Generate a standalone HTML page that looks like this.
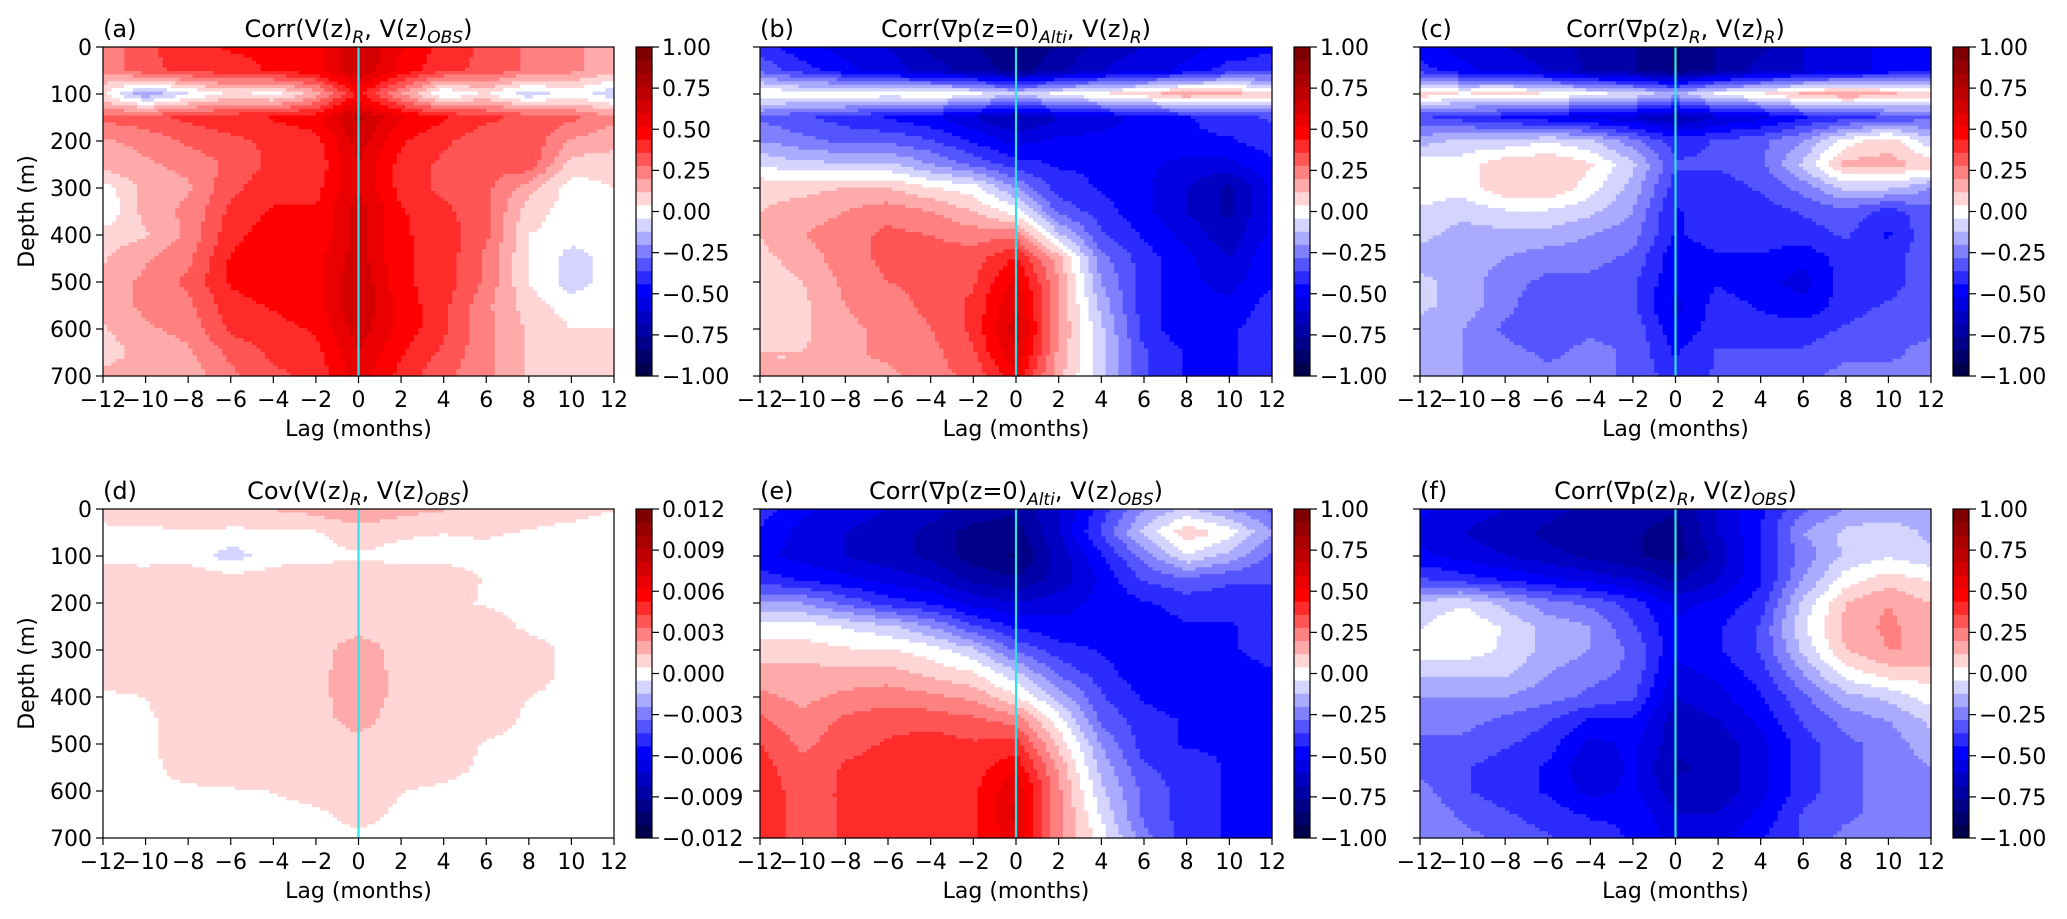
<!DOCTYPE html>
<html><head><meta charset="utf-8">
<style>
html,body{margin:0;padding:0;background:#fff;}
svg{display:block;font-family:"DejaVu Sans","Liberation Sans",sans-serif;}
</style></head>
<body>
<svg id="fig" width="2067" height="919" viewBox="0 0 2067 919" xmlns="http://www.w3.org/2000/svg"></svg>
<script>
// ---- data ----
const lags = [-12,-10,-8,-6,-4,-2,0,2,4,6,8,10,12];
const depths = [0,50,100,150,200,250,300,350,400,450,500,550,600,650,700];
const lagTicks = [-12,-10,-8,-6,-4,-2,0,2,4,6,8,10,12];
const depthTicks = [0,100,200,300,400,500,600,700];
const corrTicks = [1.00,0.75,0.50,0.25,0.00,-0.25,-0.50,-0.75,-1.00];
const covTicks = [0.012,0.009,0.006,0.003,0.000,-0.003,-0.006,-0.009,-0.012];

const valuesA = [
[0.22,0.34,0.41,0.45,0.45,0.49,0.68,0.53,0.41,0.34,0.26,0.22,0.15],
[0.22,0.34,0.38,0.41,0.45,0.49,0.68,0.49,0.38,0.34,0.26,0.22,0.15],
[0.05,-0.2,-0.05,0.05,0.0,0.15,0.45,0.2,-0.05,0.05,-0.1,0.0,-0.1],
[0.3,0.34,0.38,0.41,0.45,0.49,0.7,0.53,0.45,0.38,0.34,0.3,0.22],
[0.19,0.22,0.3,0.34,0.38,0.41,0.64,0.45,0.38,0.3,0.34,0.19,0.15],
[0.15,0.19,0.22,0.3,0.38,0.38,0.6,0.41,0.34,0.3,0.34,0.08,0.08],
[0.0,0.15,0.19,0.34,0.41,0.41,0.6,0.41,0.34,0.3,0.15,0.0,0.04],
[-0.04,0.15,0.22,0.38,0.45,0.45,0.64,0.45,0.38,0.3,0.08,0.0,0.0],
[0.08,0.11,0.22,0.41,0.49,0.45,0.64,0.45,0.41,0.3,0.04,0.0,0.0],
[0.11,0.19,0.26,0.45,0.49,0.49,0.64,0.45,0.41,0.26,0.04,-0.08,0.0],
[0.15,0.22,0.3,0.45,0.49,0.49,0.68,0.45,0.41,0.26,0.04,-0.08,0.0],
[0.15,0.22,0.26,0.41,0.45,0.49,0.68,0.49,0.38,0.22,0.08,0.0,0.0],
[0.11,0.19,0.22,0.38,0.41,0.45,0.64,0.49,0.38,0.22,0.11,0.04,0.04],
[0.08,0.15,0.19,0.3,0.38,0.41,0.6,0.45,0.34,0.22,0.11,0.08,0.04],
[0.15,0.15,0.15,0.26,0.34,0.38,0.56,0.41,0.3,0.22,0.11,0.08,0.08]];
const valuesB = [
[-0.4,-0.5,-0.55,-0.6,-0.7,-0.75,-0.85,-0.75,-0.65,-0.6,-0.55,-0.5,-0.45],
[-0.3,-0.4,-0.5,-0.55,-0.65,-0.7,-0.8,-0.7,-0.6,-0.55,-0.5,-0.4,-0.4],
[0.05,0.0,0.05,0.0,0.05,0.0,-0.1,0.0,0.05,0.1,0.2,0.15,0.1],
[-0.3,-0.35,-0.4,-0.45,-0.5,-0.6,-0.7,-0.6,-0.55,-0.5,-0.45,-0.4,-0.35],
[-0.2,-0.25,-0.3,-0.3,-0.35,-0.45,-0.55,-0.5,-0.5,-0.5,-0.45,-0.45,-0.4],
[-0.05,-0.1,-0.1,-0.1,-0.2,-0.3,-0.4,-0.45,-0.45,-0.5,-0.55,-0.55,-0.45],
[0.1,0.1,0.12,0.12,0.05,0.0,-0.2,-0.4,-0.45,-0.5,-0.6,-0.7,-0.5],
[0.12,0.15,0.2,0.25,0.2,0.12,0.0,-0.3,-0.4,-0.5,-0.6,-0.7,-0.5],
[0.12,0.2,0.25,0.3,0.28,0.25,0.25,-0.1,-0.35,-0.45,-0.55,-0.65,-0.5],
[0.1,0.15,0.25,0.3,0.3,0.32,0.45,0.15,-0.25,-0.4,-0.5,-0.6,-0.45],
[0.08,0.12,0.22,0.28,0.3,0.35,0.55,0.2,-0.2,-0.4,-0.5,-0.55,-0.45],
[0.08,0.1,0.2,0.25,0.3,0.38,0.6,0.2,-0.15,-0.4,-0.5,-0.5,-0.4],
[0.1,0.1,0.18,0.22,0.28,0.38,0.65,0.2,-0.1,-0.4,-0.5,-0.45,-0.4],
[0.12,0.12,0.18,0.22,0.25,0.35,0.6,0.18,-0.1,-0.35,-0.45,-0.45,-0.4],
[0.12,0.12,0.18,0.18,0.25,0.3,0.5,0.15,-0.1,-0.35,-0.45,-0.45,-0.4]];
const valuesC = [
[-0.5,-0.55,-0.6,-0.65,-0.7,-0.75,-0.85,-0.75,-0.7,-0.6,-0.55,-0.5,-0.45],
[-0.4,-0.5,-0.55,-0.6,-0.7,-0.75,-0.85,-0.75,-0.65,-0.6,-0.55,-0.5,-0.45],
[0.1,0.05,0.1,0.05,0.0,-0.05,-0.15,0.0,0.05,0.15,0.2,0.15,0.1],
[-0.35,-0.4,-0.45,-0.5,-0.55,-0.6,-0.7,-0.6,-0.55,-0.45,-0.4,-0.35,-0.3],
[-0.15,-0.1,-0.1,-0.05,-0.1,-0.25,-0.4,-0.35,-0.3,-0.2,0.0,0.1,-0.1],
[0.0,0.0,0.1,0.12,0.05,-0.1,-0.35,-0.35,-0.3,-0.1,0.15,0.15,0.1],
[0.0,0.0,0.1,0.12,0.0,-0.15,-0.4,-0.4,-0.35,-0.25,-0.1,-0.1,-0.2],
[-0.05,-0.1,-0.05,-0.05,-0.1,-0.2,-0.45,-0.4,-0.4,-0.35,-0.3,-0.4,-0.3],
[-0.1,-0.15,-0.15,-0.15,-0.2,-0.25,-0.45,-0.4,-0.4,-0.4,-0.35,-0.45,-0.3],
[-0.15,-0.15,-0.2,-0.25,-0.25,-0.3,-0.5,-0.45,-0.45,-0.5,-0.4,-0.4,-0.3],
[-0.1,-0.15,-0.25,-0.3,-0.3,-0.35,-0.5,-0.45,-0.5,-0.55,-0.4,-0.4,-0.3],
[-0.1,-0.15,-0.25,-0.35,-0.3,-0.35,-0.55,-0.4,-0.45,-0.5,-0.4,-0.35,-0.3],
[-0.15,-0.2,-0.3,-0.35,-0.3,-0.3,-0.5,-0.4,-0.4,-0.4,-0.35,-0.3,-0.3],
[-0.15,-0.2,-0.25,-0.3,-0.25,-0.3,-0.45,-0.35,-0.35,-0.35,-0.3,-0.3,-0.25],
[-0.15,-0.2,-0.2,-0.25,-0.25,-0.3,-0.4,-0.35,-0.3,-0.3,-0.25,-0.25,-0.25]];
const valuesD = [
[0.001,0.0012,0.0015,0.0015,0.0015,0.0018,0.0025,0.0018,0.0015,0.0012,0.001,0.0008,0.0005],
[0.0002,0.0002,0.0004,0.0002,0.0003,0.0004,0.0009,0.0006,0.0005,0.0006,0.0004,0.0002,0.0001],
[0.0002,0.0001,0.0003,-0.001,0.0001,0.0002,0.0004,0.0002,0.0002,0.0002,0.0001,0.0001,0.0001],
[0.001,0.001,0.001,0.001,0.001,0.001,0.0011,0.001,0.001,0.0004,0.0003,0.0002,0.0001],
[0.0006,0.0006,0.0007,0.0009,0.0009,0.0009,0.001,0.0009,0.0007,0.0004,0.0002,0.0001,0.0001],
[0.0009,0.0009,0.001,0.001,0.001,0.0011,0.0012,0.0011,0.001,0.0009,0.0003,0.0001,0.0001],
[0.0009,0.001,0.001,0.001,0.001,0.0012,0.0018,0.0012,0.001,0.001,0.0009,0.0002,0.0001],
[0.0009,0.001,0.001,0.001,0.001,0.0012,0.0019,0.0012,0.001,0.001,0.001,0.0002,0.0001],
[0.0003,0.0005,0.001,0.001,0.001,0.0012,0.0019,0.0012,0.001,0.001,0.0005,0.0001,0.0001],
[0.0002,0.0003,0.001,0.001,0.001,0.0012,0.0017,0.0011,0.001,0.0009,0.0003,0.0001,0.0001],
[0.0001,0.0003,0.001,0.001,0.001,0.0011,0.0012,0.001,0.001,0.0004,0.0002,0.0001,0.0001],
[0.0001,0.0002,0.0009,0.001,0.001,0.001,0.0011,0.001,0.0008,0.0003,0.0001,0.0001,0.0001],
[0.0001,0.0002,0.0003,0.0004,0.0005,0.0008,0.001,0.0005,0.0003,0.0002,0.0001,0.0001,0.0001],
[0.0001,0.0001,0.0002,0.0002,0.0002,0.0003,0.0008,0.0003,0.0002,0.0001,0.0001,0.0001,0.0001],
[0.0001,0.0001,0.0001,0.0001,0.0001,0.0001,0.0003,0.0001,0.0001,0.0001,0.0001,0.0001,0.0001]];
const valuesE = [
[-0.4,-0.5,-0.55,-0.6,-0.65,-0.7,-0.75,-0.6,-0.4,-0.2,-0.1,-0.2,-0.3],
[-0.45,-0.55,-0.6,-0.65,-0.7,-0.8,-0.8,-0.6,-0.35,-0.1,0.1,0.0,-0.2],
[-0.5,-0.55,-0.6,-0.65,-0.7,-0.8,-0.85,-0.65,-0.45,-0.25,-0.05,-0.15,-0.3],
[-0.4,-0.45,-0.5,-0.55,-0.6,-0.7,-0.75,-0.65,-0.5,-0.35,-0.3,-0.35,-0.35],
[-0.2,-0.2,-0.3,-0.4,-0.45,-0.55,-0.6,-0.55,-0.5,-0.45,-0.4,-0.4,-0.4],
[0.0,0.0,-0.05,-0.1,-0.2,-0.35,-0.45,-0.5,-0.5,-0.5,-0.45,-0.45,-0.4],
[0.08,0.08,0.05,0.05,0.0,-0.1,-0.3,-0.4,-0.45,-0.5,-0.5,-0.45,-0.4],
[0.15,0.15,0.15,0.15,0.1,0.05,-0.1,-0.3,-0.4,-0.5,-0.5,-0.5,-0.45],
[0.22,0.18,0.22,0.25,0.22,0.18,0.05,-0.15,-0.35,-0.45,-0.5,-0.5,-0.45],
[0.3,0.22,0.3,0.33,0.33,0.3,0.25,0.0,-0.3,-0.4,-0.45,-0.5,-0.45],
[0.36,0.26,0.33,0.37,0.4,0.37,0.4,0.1,-0.2,-0.4,-0.45,-0.45,-0.45],
[0.4,0.3,0.37,0.4,0.4,0.4,0.5,0.18,-0.15,-0.35,-0.4,-0.45,-0.45],
[0.4,0.33,0.37,0.4,0.4,0.42,0.6,0.22,-0.1,-0.3,-0.4,-0.45,-0.45],
[0.4,0.33,0.37,0.4,0.4,0.42,0.62,0.22,-0.05,-0.3,-0.4,-0.45,-0.45],
[0.4,0.33,0.37,0.37,0.4,0.42,0.58,0.22,0.0,-0.25,-0.4,-0.45,-0.45]];
const valuesF = [
[-0.5,-0.55,-0.6,-0.65,-0.7,-0.7,-0.75,-0.6,-0.45,-0.3,-0.2,-0.2,-0.2],
[-0.55,-0.6,-0.65,-0.7,-0.75,-0.75,-0.8,-0.6,-0.45,-0.2,-0.1,-0.05,-0.15],
[-0.5,-0.55,-0.6,-0.65,-0.7,-0.75,-0.8,-0.65,-0.45,-0.25,-0.1,-0.05,-0.1],
[-0.35,-0.4,-0.45,-0.5,-0.55,-0.6,-0.7,-0.6,-0.45,-0.2,0.0,0.08,0.03],
[-0.1,-0.05,-0.15,-0.25,-0.3,-0.4,-0.55,-0.5,-0.4,-0.1,0.12,0.2,0.12],
[-0.05,0.03,-0.05,-0.15,-0.2,-0.35,-0.5,-0.45,-0.35,-0.05,0.15,0.22,0.15],
[0.0,0.0,-0.05,-0.15,-0.2,-0.3,-0.5,-0.45,-0.35,-0.1,0.12,0.2,0.2],
[-0.1,-0.1,-0.1,-0.2,-0.25,-0.3,-0.55,-0.5,-0.4,-0.2,0.0,0.08,0.08],
[-0.2,-0.2,-0.2,-0.25,-0.3,-0.35,-0.6,-0.55,-0.45,-0.3,-0.15,-0.1,0.0],
[-0.25,-0.25,-0.3,-0.35,-0.45,-0.45,-0.65,-0.6,-0.5,-0.35,-0.25,-0.2,-0.1],
[-0.3,-0.3,-0.35,-0.4,-0.55,-0.5,-0.65,-0.65,-0.55,-0.4,-0.3,-0.25,-0.15],
[-0.3,-0.35,-0.4,-0.45,-0.6,-0.5,-0.7,-0.65,-0.55,-0.4,-0.3,-0.25,-0.2],
[-0.25,-0.35,-0.4,-0.45,-0.55,-0.5,-0.65,-0.65,-0.55,-0.4,-0.3,-0.25,-0.2],
[-0.2,-0.3,-0.35,-0.4,-0.45,-0.45,-0.6,-0.6,-0.5,-0.35,-0.3,-0.25,-0.2],
[-0.2,-0.25,-0.3,-0.35,-0.4,-0.45,-0.55,-0.55,-0.45,-0.35,-0.25,-0.2,-0.2]];

// ---- drawing ----
const NS = "http://www.w3.org/2000/svg";
const svg = document.getElementById('fig');
function mk(tag, attrs, parent){ const e=document.createElementNS(NS,tag); for(const k in attrs) e.setAttribute(k,attrs[k]); (parent||svg).appendChild(e); return e; }
function seismic(t){
  t=Math.max(0,Math.min(1,t)); let r,g,b;
  if(t<0.25){const u=t/0.25; r=0;g=0;b=0.3+0.7*u;}
  else if(t<0.5){const u=(t-0.25)/0.25; r=u;g=u;b=1;}
  else if(t<0.75){const u=(t-0.5)/0.25; r=1;g=1-u;b=1-u;}
  else {const u=(t-0.75)/0.25; r=1-0.5*u;g=0;b=0;}
  return `rgb(${Math.round(r*255)},${Math.round(g*255)},${Math.round(b*255)})`;
}
const NLEV = 25;
const panels = [
  {id:'a', x0:103, x1:614, y0:47, y1:376, cb:636, vals:valuesA, vmax:1, ticks:corrTicks, fmt:v=>v.toFixed(2), ylabels:true,
   title:[['Corr(V(z)',0],['R',1],[', V(z)',0],['OBS',1],[')',0]]},
  {id:'b', x0:760, x1:1272, y0:47, y1:376, cb:1294, vals:valuesB, vmax:1, ticks:corrTicks, fmt:v=>v.toFixed(2), ylabels:false,
   title:[['Corr(∇p(z=0)',0],['Alti',1],[', V(z)',0],['R',1],[')',0]]},
  {id:'c', x0:1420, x1:1931, y0:47, y1:376, cb:1953, vals:valuesC, vmax:1, ticks:corrTicks, fmt:v=>v.toFixed(2), ylabels:false,
   title:[['Corr(∇p(z)',0],['R',1],[', V(z)',0],['R',1],[')',0]]},
  {id:'d', x0:103, x1:614, y0:509, y1:838, cb:636, vals:valuesD, vmax:0.012, ticks:covTicks, fmt:v=>v.toFixed(3), ylabels:true,
   title:[['Cov(V(z)',0],['R',1],[', V(z)',0],['OBS',1],[')',0]]},
  {id:'e', x0:760, x1:1272, y0:509, y1:838, cb:1294, vals:valuesE, vmax:1, ticks:corrTicks, fmt:v=>v.toFixed(2), ylabels:false,
   title:[['Corr(∇p(z=0)',0],['Alti',1],[', V(z)',0],['OBS',1],[')',0]]},
  {id:'f', x0:1420, x1:1931, y0:509, y1:838, cb:1953, vals:valuesF, vmax:1, ticks:corrTicks, fmt:v=>v.toFixed(2), ylabels:false,
   title:[['Corr(∇p(z)',0],['R',1],[', V(z)',0],['OBS',1],[')',0]]},
];
const fmtNum = s => s.replace('-', '\u2212');

panels.forEach(p=>{
  const g = mk('g',{});
  
  
  const xs = v => p.x0 + (v - lags[0])/(lags[lags.length-1]-lags[0])*(p.x1-p.x0);
  const ys = d => p.y0 + (d - depths[0])/(depths[depths.length-1]-depths[0])*(p.y1-p.y0);
  const step = 2*p.vmax/NLEV;
  const bandColor = i => seismic(i/(NLEV-1));
  const colorOf = v => { let i=Math.floor((v+p.vmax)/step); i=Math.max(0,Math.min(NLEV-1,i)); return bandColor(i); };
  const sample = (lag, dep) => {
    let i=0; while(i<lags.length-2 && lag>lags[i+1]) i++;
    let j=0; while(j<depths.length-2 && dep>depths[j+1]) j++;
    const u=(lag-lags[i])/(lags[i+1]-lags[i]), w=(dep-depths[j])/(depths[j+1]-depths[j]);
    const V=p.vals;
    return (1-u)*(1-w)*V[j][i] + u*(1-w)*V[j][i+1] + (1-u)*w*V[j+1][i] + u*w*V[j+1][i+1];
  };
  const field = mk('g',{},g);
  
  
  const NX=120, NY=96;
  const L0=lags[0], L1=lags[lags.length-1], D0=depths[0], D1=depths[depths.length-1];
  for(let r=0;r<NY;r++){
    const dA=D0+(D1-D0)*r/NY, dB=D0+(D1-D0)*(r+1)/NY, dm=(dA+dB)/2;
    let start=0, cur=null;
    for(let c=0;c<=NX;c++){
      let col=null;
      if(c<NX){ const lm=L0+(L1-L0)*(c+0.5)/NX; col=colorOf(sample(lm,dm)); }
      if(col!==cur){
        if(cur!==null){
          const la=L0+(L1-L0)*start/NX, lb=L0+(L1-L0)*c/NX;
          const rc=mk('rect',{x:xs(la).toFixed(2),y:ys(dA).toFixed(2),width:(xs(lb)-xs(la)+0.6).toFixed(2),height:(ys(dB)-ys(dA)+0.6).toFixed(2),fill:cur},field);
          
          
        }
        cur=col; start=c;
      }
    }
  }
  const zl = mk('line',{x1:xs(0),x2:xs(0),y1:p.y0,y2:p.y1,stroke:'#33e0e8','stroke-width':2.2},g);
  
  
  const fr = mk('rect',{x:p.x0,y:p.y0,width:p.x1-p.x0,height:p.y1-p.y0,fill:'none',stroke:'#000','stroke-width':1.2},g);
  
  
  lagTicks.forEach(t=>{
    const x=xs(t);
    mk('line',{x1:x,x2:x,y1:p.y1,y2:p.y1+7,stroke:'#000','stroke-width':1.2},g);
    const tx=mk('text',{x:x,y:p.y1+31,'font-size':22,'text-anchor':'middle',fill:'#000'},g);
    tx.textContent=fmtNum(String(t));
    
    
  });
  const xl=mk('text',{x:(p.x0+p.x1)/2,y:p.y1+60,'font-size':22,'text-anchor':'middle'},g);
  xl.textContent='Lag (months)';
  
  
  depthTicks.forEach(t=>{
    const y=ys(t);
    mk('line',{x1:p.x0-7,x2:p.x0,y1:y,y2:y,stroke:'#000','stroke-width':1.2},g);
    if(p.ylabels){
      const ty=mk('text',{x:p.x0-11,y:y+8,'font-size':22,'text-anchor':'end'},g);
      ty.textContent=String(t);
      
      
    }
  });
  if(p.ylabels){
    const cy=(p.y0+p.y1)/2;
    const yl=mk('text',{x:0,y:0,'font-size':22,'text-anchor':'middle',transform:`translate(34,${cy}) rotate(-90)`},g);
    yl.textContent='Depth (m)';
    
    
  }
  const lb=mk('text',{x:p.x0,y:p.y0-10,'font-size':24},g);
  lb.textContent='('+p.id+')';
  
  
  const tt=mk('text',{x:(p.x0+p.x1)/2,y:p.y0-10,'font-size':24,'text-anchor':'middle'},g);
  
  
  let prevSub=false;
  p.title.forEach(([s,sub])=>{
    const ts=mk('tspan',{},tt);
    if(sub){ ts.setAttribute('font-size','17'); ts.setAttribute('font-style','italic'); ts.setAttribute('dy','6'); }
    else if(prevSub){ ts.setAttribute('dy','-6'); }
    ts.textContent=s; prevSub=!!sub;
  });
  const cbw=16, cbg=mk('g',{},g);
  
  
  const hb=(p.y1-p.y0)/NLEV;
  for(let i=0;i<NLEV;i++){
    const r=mk('rect',{x:p.cb,y:(p.y1-(i+1)*hb).toFixed(2),width:cbw,height:(hb+0.5).toFixed(2),fill:bandColor(i)},cbg);
    
    
  }
  mk('rect',{x:p.cb,y:p.y0,width:cbw,height:p.y1-p.y0,fill:'none',stroke:'#000','stroke-width':1.2},cbg);
  p.ticks.forEach(t=>{
    const y=p.y1-(t+p.vmax)/(2*p.vmax)*(p.y1-p.y0);
    mk('line',{x1:p.cb+cbw,x2:p.cb+cbw+7,y1:y,y2:y,stroke:'#000','stroke-width':1.2},cbg);
    const ct=mk('text',{x:p.cb+cbw+10,y:y+8,'font-size':22},cbg);
    ct.textContent=fmtNum(p.fmt(t));
    
    
  });
});
</script>
</body></html>
